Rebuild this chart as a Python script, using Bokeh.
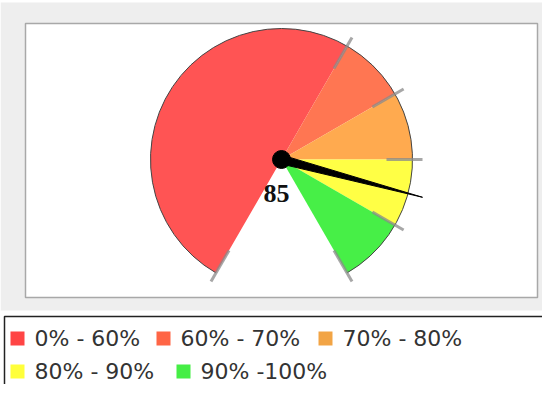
import math
from bokeh.plotting import figure
from bokeh.models import Range1d
from bokeh.core.properties import value
from bokeh.embed import file_html
from bokeh.resources import INLINE

# ---- data ----
interval_lo = [0, 60, 70, 80, 90]
interval_hi = [60, 70, 80, 90, 100]
labels = ["0% - 60%", "60% - 70%", "70% - 80%", "80% - 90%", "90% -100%"]
dial_colors = ["#ff5454", "#ff7652", "#ffaa4f", "#ffff45", "#47ef47"]
legend_colors = ["#ff4545", "#ff6545", "#f2a445", "#ffff3a", "#45ee45"]
needle_value = 85
dial_min, dial_max = 0, 100

# ---- layout ----
W, H = 542, 384
def X(px):  # page x -> data x
    return px - 8
def Y(py):  # page y -> data y
    return 392 - py

p = figure(width=W, height=H, output_backend="svg", toolbar_location=None,
           x_range=Range1d(0, W), y_range=Range1d(0, H),
           x_axis_location=None, y_axis_location=None, min_border=0,
           background_fill_color="white", border_fill_color="white")
p.outline_line_color = None
p.grid.visible = False

# chart background and plot area
p.quad(left=X(8), right=X(556), bottom=Y(318), top=Y(10), fill_color="#eeeeee", line_color=None)
p.quad(left=X(33), right=X(545), bottom=Y(305), top=Y(31), fill_color="white",
       line_color="#a8a8a8", line_width=1.5)

# dial
cx, cy, R = X(289), Y(167), 131
def ang(v):
    return math.radians(240 - 300 * (v - dial_min) / (dial_max - dial_min))

p.wedge(x=cx, y=cy, radius=R,
        start_angle=[ang(h) for h in interval_hi],
        end_angle=[ang(l) for l in interval_lo],
        fill_color=dial_colors, line_color=None)
p.arc(x=cx, y=cy, radius=R, start_angle=ang(dial_max), end_angle=ang(dial_min),
      line_color="#444444", line_width=1)

bounds = interval_lo + [interval_hi[-1]]
r0, r1 = 105, 141
p.segment(x0=[cx + r0 * math.cos(ang(b)) for b in bounds],
          y0=[cy + r0 * math.sin(ang(b)) for b in bounds],
          x1=[cx + r1 * math.cos(ang(b)) for b in bounds],
          y1=[cy + r1 * math.sin(ang(b)) for b in bounds],
          line_color="#8a8a8a", line_width=3, line_alpha=0.75)

# needle
t = ang(needle_value)
L, hw = 146, 4.5
dx, dy = math.cos(t), math.sin(t)
nx, ny = -dy, dx
p.patch(x=[cx + nx * hw - dx * 3, cx + dx * L, cx - nx * hw - dx * 3],
        y=[cy + ny * hw - dy * 3, cy + dy * L, cy - ny * hw - dy * 3],
        fill_color="black", line_color="black", line_width=1)
p.circle(x=[cx], y=[cy], radius=9, fill_color="black", line_color="black")

p.text(x=[cx - 5], y=[cy - 34], text=[str(needle_value)],
       text_font=value("Liberation Serif"), text_font_style="bold",
       text_font_size="26px", text_color="#111111",
       text_align="center", text_baseline="middle")

# legend
p.quad(left=X(12), right=X(600), bottom=Y(440), top=Y(324), fill_color="white",
       line_color="#222222", line_width=1.5)
item_pos = [(18, 346), (164, 346), (326, 346), (18, 379), (184, 379)]
sq = 14
for (px, py), lab, col in zip(item_pos, labels, legend_colors):
    p.quad(left=X(px), right=X(px + sq), bottom=Y(py + sq / 2), top=Y(py - sq / 2),
           fill_color=col, line_color=None)
    p.text(x=[X(px + sq + 10)], y=[Y(py)], text=[lab],
           text_font=value("DejaVu Sans"), text_font_size="22px",
           text_color="#333333", text_align="left", text_baseline="middle")

open("out.html", "w").write(file_html(p, INLINE))
